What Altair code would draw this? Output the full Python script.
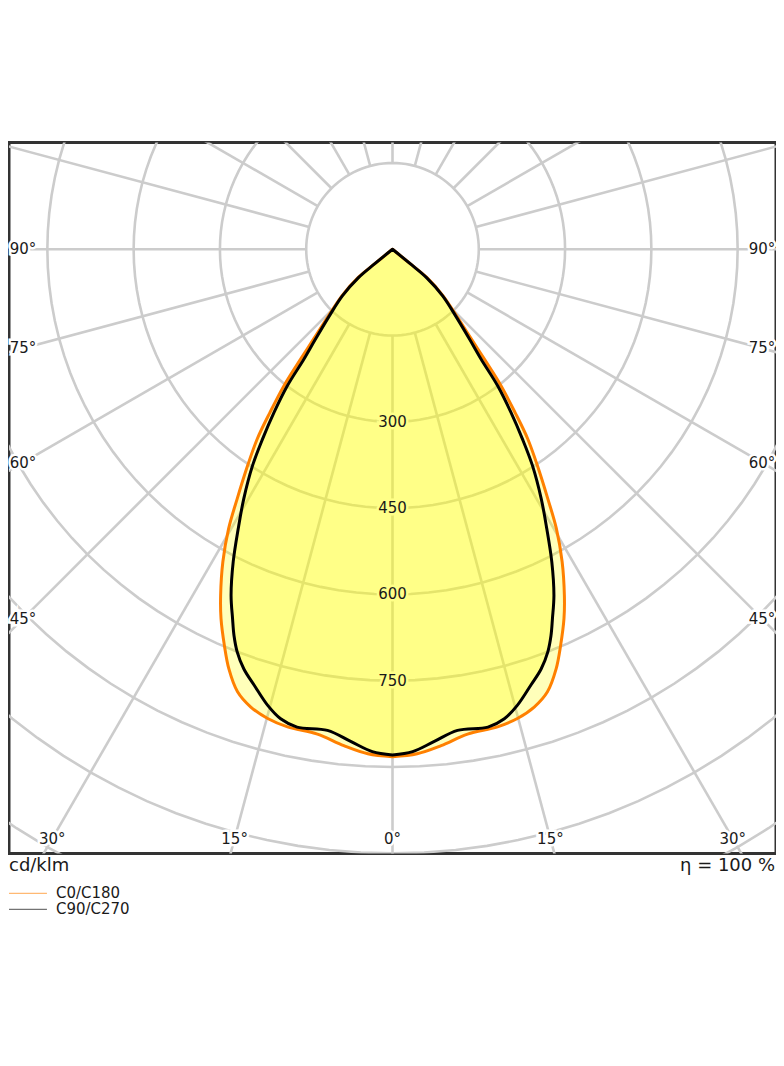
import math
import altair as alt
import pandas as pd

# ---------------- data (cd/klm vs gamma angle, degrees; planes are symmetric) ----
SERIES = ["C0/C180", "C90/C270"]
COLORS = ["#ff8000", "#000000"]

GAMMA_C0 = [0, 2.8, 5.6, 8.8, 12.4, 14.9, 17.2, 19.3, 21.3, 23.0, 24.9, 26.4, 28.5,
            30.4, 31.9, 33.8, 35.5, 36.9, 38.5, 39.9, 41.3, 43.9, 47.4, 50.6, 50.8, 52]
I_C0 = [882, 878, 867, 853, 850, 844, 833, 815, 783, 748, 708, 672, 618,
        563, 511, 453, 405, 355, 303, 249, 208, 160, 119, 77, 41, 0]

GAMMA_C90 = [0, 2.3, 4.8, 7.7, 11.3, 13.4, 15.3, 17.6, 19.5, 21.1, 22.3, 23.4, 25.0,
             27.0, 28.9, 30.8, 32.9, 34.4, 36.0, 37.6, 38.9, 40.6, 43.5, 47.1, 50.2,
             50.8, 52]
I_C90 = [879, 874, 859, 844, 847, 839, 822, 795, 774, 750, 726, 700, 664,
         610, 555, 505, 448, 400, 350, 300, 245, 206, 159, 119, 77,
         41, 0]

GRID_R = [150, 300, 450, 600, 750, 900, 1050, 1200]
SPOKE_ANGLES = list(range(0, 360, 15))
VALUE_LABELS = [300, 450, 600, 750]
SIDE_ANGLES = [90, 75, 60, 45]
BOTTOM_ANGLES = [-30, -15, 0, 15, 30]
UNIT_TEXT = "cd/klm"
ETA_TEXT = "η = 100 %"

# ---------------- layout ----------------
W, H = 768, 712
S = 0.576          # px per cd/klm
CY = 107           # px from top of frame to pole
XMAX = (W / 2) / S
YMIN = -CY / S
YMAX = (H - CY) / S
FONT = "DejaVu Sans"

xs = alt.Scale(domain=[-XMAX, XMAX], nice=False, zero=False)
ys = alt.Scale(domain=[YMIN, YMAX], nice=False, zero=False, reverse=True)

rows = []
for name, gs, vals in [(SERIES[0], GAMMA_C0, I_C0), (SERIES[1], GAMMA_C90, I_C90)]:
    for g, v in zip(gs, vals):
        rows.append({"series": name, "gamma": g, "I": v})
curves = pd.DataFrame(rows)

circ = pd.DataFrame([{"r": r, "a": a} for r in GRID_R for a in range(0, 361, 3)])
spokes = pd.DataFrame({"a": SPOKE_ANGLES})

# ---------------- grid ----------------
circles = alt.Chart(circ).transform_calculate(
    cx="datum.r*sin(datum.a*PI/180)", cy="datum.r*cos(datum.a*PI/180)"
).mark_line(clip=True, stroke="#cccccc", strokeWidth=2.6).encode(
    x=alt.X("cx:Q", scale=xs, axis=None),
    y=alt.Y("cy:Q", scale=ys, axis=None),
    detail="r:N",
    order="a:Q",
)

r_in = GRID_R[0]
spoke_layer = alt.Chart(spokes).transform_calculate(
    sx1=f"{r_in}*sin(datum.a*PI/180)", sy1=f"{r_in}*cos(datum.a*PI/180)",
    sx2="2000*sin(datum.a*PI/180)", sy2="2000*cos(datum.a*PI/180)",
).mark_rule(clip=True, stroke="#cccccc", strokeWidth=2.6).encode(
    x=alt.X("sx1:Q", scale=xs, axis=None),
    y=alt.Y("sy1:Q", scale=ys, axis=None),
    x2="sx2:Q",
    y2="sy2:Q",
)

# ---------------- curves ----------------
base = alt.Chart(curves).transform_calculate(
    xr="datum.I*sin(datum.gamma*PI/180)",
    xl="-datum.I*sin(datum.gamma*PI/180)",
    yv="datum.I*cos(datum.gamma*PI/180)",
)

fills = base.mark_area(orient="horizontal", interpolate="catmull-rom",
                       fill="#ffff00", fillOpacity=0.27, strokeWidth=0).encode(
    x=alt.X("xl:Q", scale=xs, axis=None, stack=None),
    x2="xr:Q",
    y=alt.Y("yv:Q", scale=ys, axis=None),
    detail="series:N",
)

outlines = base.mark_area(orient="horizontal", interpolate="catmull-rom",
                          fillOpacity=0, strokeWidth=3, strokeJoin="round").encode(
    x=alt.X("xl:Q", scale=xs, axis=None, stack=None),
    x2="xr:Q",
    y=alt.Y("yv:Q", scale=ys, axis=None),
    stroke=alt.Stroke("series:N", scale=alt.Scale(domain=SERIES, range=COLORS), legend=None),
)

# ---------------- value labels ----------------
vl = pd.DataFrame({"v": VALUE_LABELS})
vbase = alt.Chart(vl).transform_calculate(x0="0")
v_enc = dict(
    x=alt.X("x0:Q", scale=xs, axis=None),
    y=alt.Y("v:Q", scale=ys, axis=None),
    text=alt.Text("v:Q"),
)
v_halo = vbase.mark_text(font=FONT, fontSize=15, stroke="#ffff88", strokeWidth=5,
                         baseline="middle", align="center").encode(**v_enc)
v_text = vbase.mark_text(font=FONT, fontSize=15, color="#1a1a1a",
                         baseline="middle", align="center").encode(**v_enc)

# ---------------- angle labels ----------------
alab = []
d_side = (W / 2 - 14) / S
for a in SIDE_ANGLES:
    for sgn in (-1, 1):
        alab.append({"t": f"{a}°", "lx": sgn * d_side,
                     "ly": d_side / math.tan(math.radians(a))})
d_bot = (H - CY - 15) / S
for a in BOTTOM_ANGLES:
    alab.append({"t": f"{abs(a)}°", "lx": d_bot * math.tan(math.radians(a)), "ly": d_bot})
adf = pd.DataFrame(alab)
a_enc = dict(
    x=alt.X("lx:Q", scale=xs, axis=None),
    y=alt.Y("ly:Q", scale=ys, axis=None),
    text="t:N",
)
a_halo = alt.Chart(adf).mark_text(font=FONT, fontSize=15, stroke="white", strokeWidth=5,
                                  baseline="middle", align="center").encode(**a_enc)
a_text = alt.Chart(adf).mark_text(font=FONT, fontSize=15, color="#1a1a1a",
                                  baseline="middle", align="center").encode(**a_enc)

# ---------------- captions & legend ----------------
unit = alt.Chart(pd.DataFrame({"t": [UNIT_TEXT]})).mark_text(
    font=FONT, fontSize=18, color="#1a1a1a", align="left", baseline="middle"
).encode(text="t:N", x=alt.value(0), y=alt.value(H + 13))
eta = alt.Chart(pd.DataFrame({"t": [ETA_TEXT]})).mark_text(
    font=FONT, fontSize=18, color="#1a1a1a", align="right", baseline="middle"
).encode(text="t:N", x=alt.value(W - 1), y=alt.value(H + 13))

legend_layers = []
for i, (name, col) in enumerate(zip(SERIES, COLORS)):
    yy = H + 40 + 16 * i
    legend_layers.append(
        alt.Chart(pd.DataFrame({"t": [name]})).mark_rule(
            stroke=col, strokeWidth=1.3, opacity=0.55
        ).encode(x=alt.value(0), x2=alt.value(38), y=alt.value(yy))
    )
    legend_layers.append(
        alt.Chart(pd.DataFrame({"t": [name]})).mark_text(
            font=FONT, fontSize=15, color="#1a1a1a", align="left", baseline="middle"
        ).encode(text="t:N", x=alt.value(47), y=alt.value(yy))
    )

chart = alt.layer(
    circles, spoke_layer, fills, outlines, v_halo, v_text, a_halo, a_text,
    unit, eta, *legend_layers
).properties(
    width=W, height=H,
    padding={"left": 0, "top": 134, "right": 0, "bottom": 10},
).configure_view(
    stroke="#333333", strokeWidth=3
)

chart.save("out.html", embed_options={"renderer": "svg", "actions": False})
